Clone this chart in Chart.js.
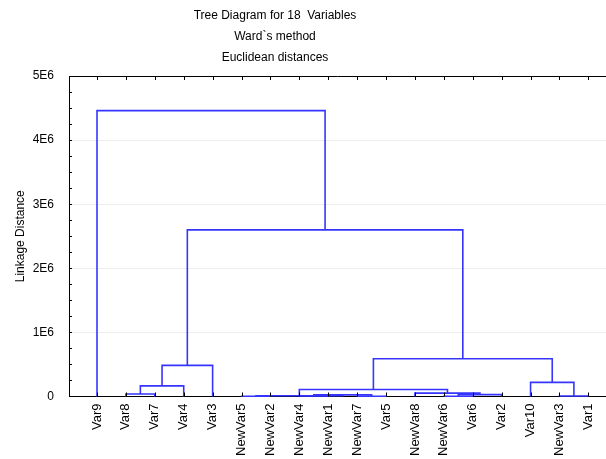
<!DOCTYPE html>
<html>
<head>
<meta charset="utf-8">
<script src="https://cdn.jsdelivr.net/npm/chart.js@4.4.0/dist/chart.umd.min.js"></script>
<style>
    html, body { margin: 0; padding: 0; background: #fff; overflow: hidden; }
    #wrap { position: relative; width: 606px; height: 459px; }
</style>
</head>
<body>
<div id="wrap"><canvas id="treeChart"></canvas></div>
<script>
const titleLines = ['Tree Diagram for 18  Variables', 'Ward`s method', 'Euclidean distances'];

// leaf order along the x axis
const leaves = ['Var9', 'Var8', 'Var7', 'Var4', 'Var3', 'NewVar5', 'NewVar2', 'NewVar4', 'NewVar1',
    'NewVar7', 'Var5', 'NewVar8', 'NewVar6', 'Var6', 'Var2', 'Var10', 'NewVar3', 'Var1'];

// each merge joins two members (a leaf or an earlier merge) at a linkage distance
const mergeIds = ['m0', 'm1', 'm2', 'm3', 'm4', 'm5', 'm6', 'm7', 'm8', 'm9', 'm10', 'm11', 'm12', 'm13', 'm14', 'm15', 'm16'];
const mergeLeft = ['Var8', 'm0', 'm1', 'NewVar5', 'NewVar4', 'NewVar7', 'm4', 'm3', 'NewVar6', 'm8', 'NewVar8', 'm7', 'NewVar3', 'Var10', 'm11', 'm2', 'Var9'];
const mergeRight = ['Var7', 'Var4', 'Var3', 'NewVar2', 'NewVar1', 'Var5', 'm5', 'm6', 'Var6', 'Var2', 'm9', 'm10', 'Var1', 'm12', 'm13', 'm14', 'm15'];
const mergeHeight = [40000, 165000, 485000, 3000, 10000, 5000, 25000, 12000, 5000, 30000, 52000, 110000, 8000, 220000, 590000, 2600000, 4460000];

const yTicks = [0, 1000000, 2000000, 3000000, 4000000, 5000000];

const FONT = '"Liberation Sans", Arial, sans-serif';
const LINK_COLOR = '#3535ff';

document.addEventListener('DOMContentLoaded', function () {
    const nodeX = {};
    const nodeY = {};
    leaves.forEach(function (name, i) {
        nodeX[name] = i;
        nodeY[name] = 0;
    });

    const datasets = mergeIds.map(function (id, k) {
        const a = mergeLeft[k];
        const b = mergeRight[k];
        const h = mergeHeight[k];
        nodeX[id] = (nodeX[a] + nodeX[b]) / 2;
        nodeY[id] = h;
        return {
            label: id,
            data: [
                { x: nodeX[a], y: nodeY[a] },
                { x: nodeX[a], y: h },
                { x: nodeX[b], y: h },
                { x: nodeX[b], y: nodeY[b] }
            ],
            borderColor: LINK_COLOR,
            borderWidth: 1.6,
            pointRadius: 0,
            tension: 0,
            fill: false,
            clip: 4
        };
    });

    // top frame, inside tick marks and the titles
    const framePlugin = {
        id: 'frame',
        afterDraw: function (chart) {
            const ctx = chart.ctx;
            const area = chart.chartArea;
            const x = chart.scales.x;
            const y = chart.scales.y;
            ctx.save();
            ctx.strokeStyle = '#000';
            ctx.lineWidth = 1;
            ctx.beginPath();
            ctx.moveTo(area.left, Math.round(area.top) + 0.5);
            ctx.lineTo(area.right, Math.round(area.top) + 0.5);
            leaves.forEach(function (_, i) {
                const px = Math.round(x.getPixelForValue(i)) + 0.5;
                ctx.moveTo(px, area.top);
                ctx.lineTo(px, area.top + 4);
                ctx.moveTo(px, area.bottom);
                ctx.lineTo(px, area.bottom - 4);
            });
            for (let v = 250000; v < 5000000; v += 250000) {
                const py = Math.round(y.getPixelForValue(v)) + 0.5;
                ctx.moveTo(area.left, py);
                ctx.lineTo(area.left + 3, py);
            }
            ctx.stroke();

            ctx.fillStyle = '#000';
            ctx.font = '12px ' + FONT;
            ctx.textAlign = 'center';
            ctx.textBaseline = 'middle';
            titleLines.forEach(function (t, i) {
                ctx.fillText(t, 275, 16 + i * 21);
            });
            ctx.restore();
        }
    };

    new Chart(document.getElementById('treeChart'), {
        type: 'line',
        data: { datasets: datasets },
        plugins: [framePlugin],
        options: {
            responsive: true,
            maintainAspectRatio: false,
            animation: false,
            layout: { padding: { top: 76, right: 0, bottom: 0, left: 0 } },
            plugins: {
                legend: { display: false },
                tooltip: { enabled: false }
            },
            scales: {
                x: {
                    type: 'linear',
                    min: -0.969,
                    max: 17.61,
                    afterBuildTicks: function (axis) {
                        axis.ticks = leaves.map(function (_, i) { return { value: i }; });
                    },
                    afterFit: function (axis) {
                        axis.height = 62.5;
                        axis.paddingRight = 0;
                        axis.paddingLeft = 0;
                    },
                    ticks: {
                        autoSkip: false,
                        minRotation: 90,
                        maxRotation: 90,
                        padding: 7,
                        color: '#000',
                        font: { family: FONT, size: 13 },
                        callback: function (value) {
                            return leaves[value];
                        }
                    },
                    grid: { display: false, drawTicks: false },
                    border: { display: true, color: '#000', width: 1 }
                },
                y: {
                    min: 0,
                    max: 5000000,
                    afterBuildTicks: function (axis) {
                        axis.ticks = yTicks.map(function (v) { return { value: v }; });
                    },
                    afterFit: function (axis) {
                        axis.width = 69;
                    },
                    ticks: {
                        padding: 15,
                        color: '#000',
                        font: { family: FONT, size: 12 },
                        callback: function (value) {
                            return value === 0 ? '0' : (value / 1000000) + 'E6';
                        }
                    },
                    grid: { color: '#eeeeee', drawTicks: false },
                    border: { display: true, color: '#000', width: 1 },
                    title: {
                        display: true,
                        text: 'Linkage Distance',
                        color: '#000',
                        font: { family: FONT, size: 12 },
                        padding: { top: 13, bottom: 0 }
                    }
                }
            }
        }
    });
});
</script>
</body>
</html>
